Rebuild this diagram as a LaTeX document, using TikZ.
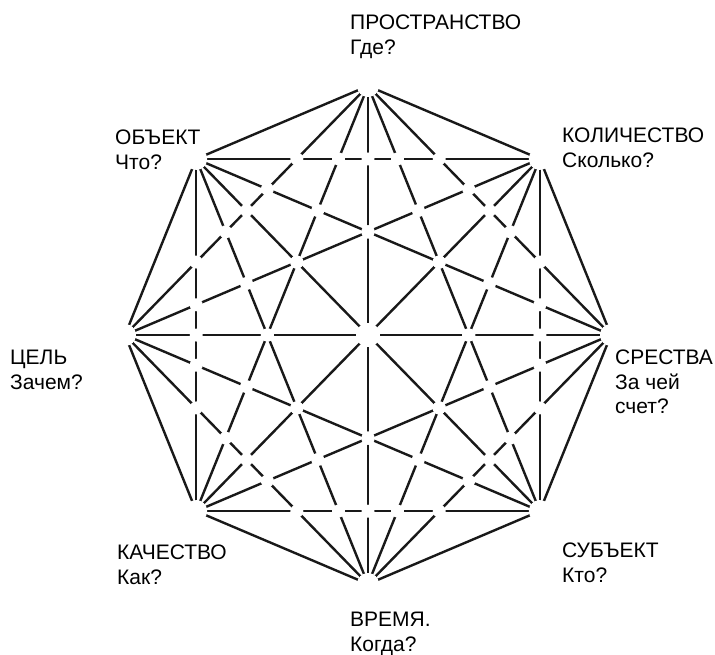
\documentclass[tikz,border=0pt]{standalone}
\usepackage{fontspec}
\setmainfont{Liberation Sans}
\begin{document}
\begin{tikzpicture}[
  x=1pt, y=-1pt,
  font=\fontsize{21}{24.5}\selectfont,
  chord/.style={draw=black!90, line width=2.4pt},
  gap/.style={fill=white},
  lab/.style={anchor=north west, align=left, inner sep=0pt}
]
\useasboundingbox (0,0) rectangle (715,655);
\foreach \i in {1,...,8}
  \coordinate (v\i) at ({368+243*cos(90-45*(\i-1))}, {335-249*sin(90-45*(\i-1))});
\coordinate (c) at (368,335);

% every vertex joined to every other one
\foreach \a in {1,...,7}{
  \pgfmathtruncatemacro\na{\a+1}
  \foreach \b in {\na,...,8}
    \draw[chord] (v\a) -- (v\b);
}
% break the lines where they cross
\foreach \a in {1,...,5}{
  \pgfmathtruncatemacro\na{\a+1}
  \foreach \c in {\na,...,6}{
    \pgfmathtruncatemacro\nc{\c+1}
    \foreach \b in {\nc,...,7}{
      \pgfmathtruncatemacro\nb{\b+1}
      \foreach \d in {\nb,...,8}{
        \pgfpathcircle{\pgfpointintersectionoflines
          {\pgfpointanchor{v\a}{center}}{\pgfpointanchor{v\b}{center}}
          {\pgfpointanchor{v\c}{center}}{\pgfpointanchor{v\d}{center}}}{6.5pt}
        \pgfsetfillcolor{white}
        \pgfusepath{fill}
      }
    }
  }
}
\foreach \i in {1,...,8}
  \fill[gap] (v\i) circle (11pt);
\fill[gap] (c) circle (12pt);

\node[lab] (prostr) at (350,15) {ПРОСТРАНСТВО\\Где?};
\node[lab] (kolich) at (562,128) {КОЛИЧЕСТВО\\Сколько?};
\node[lab] (sredst) at (615,350) {СРЕСТВА\\За чей\\счет?};
\node[lab] (subj) at (562,543) {СУБЪЕКТ\\Кто?};
\node[lab] (vremya) at (350,612) {ВРЕМЯ.\\Когда?};
\node[lab] (kachest) at (117,545) {КАЧЕСТВО\\Как?};
\node[lab] (tsel) at (10,350) {ЦЕЛЬ\\Зачем?};
\node[lab] (obj) at (115,130) {ОБЪЕКТ\\Что?};
\end{tikzpicture}
\end{document}
